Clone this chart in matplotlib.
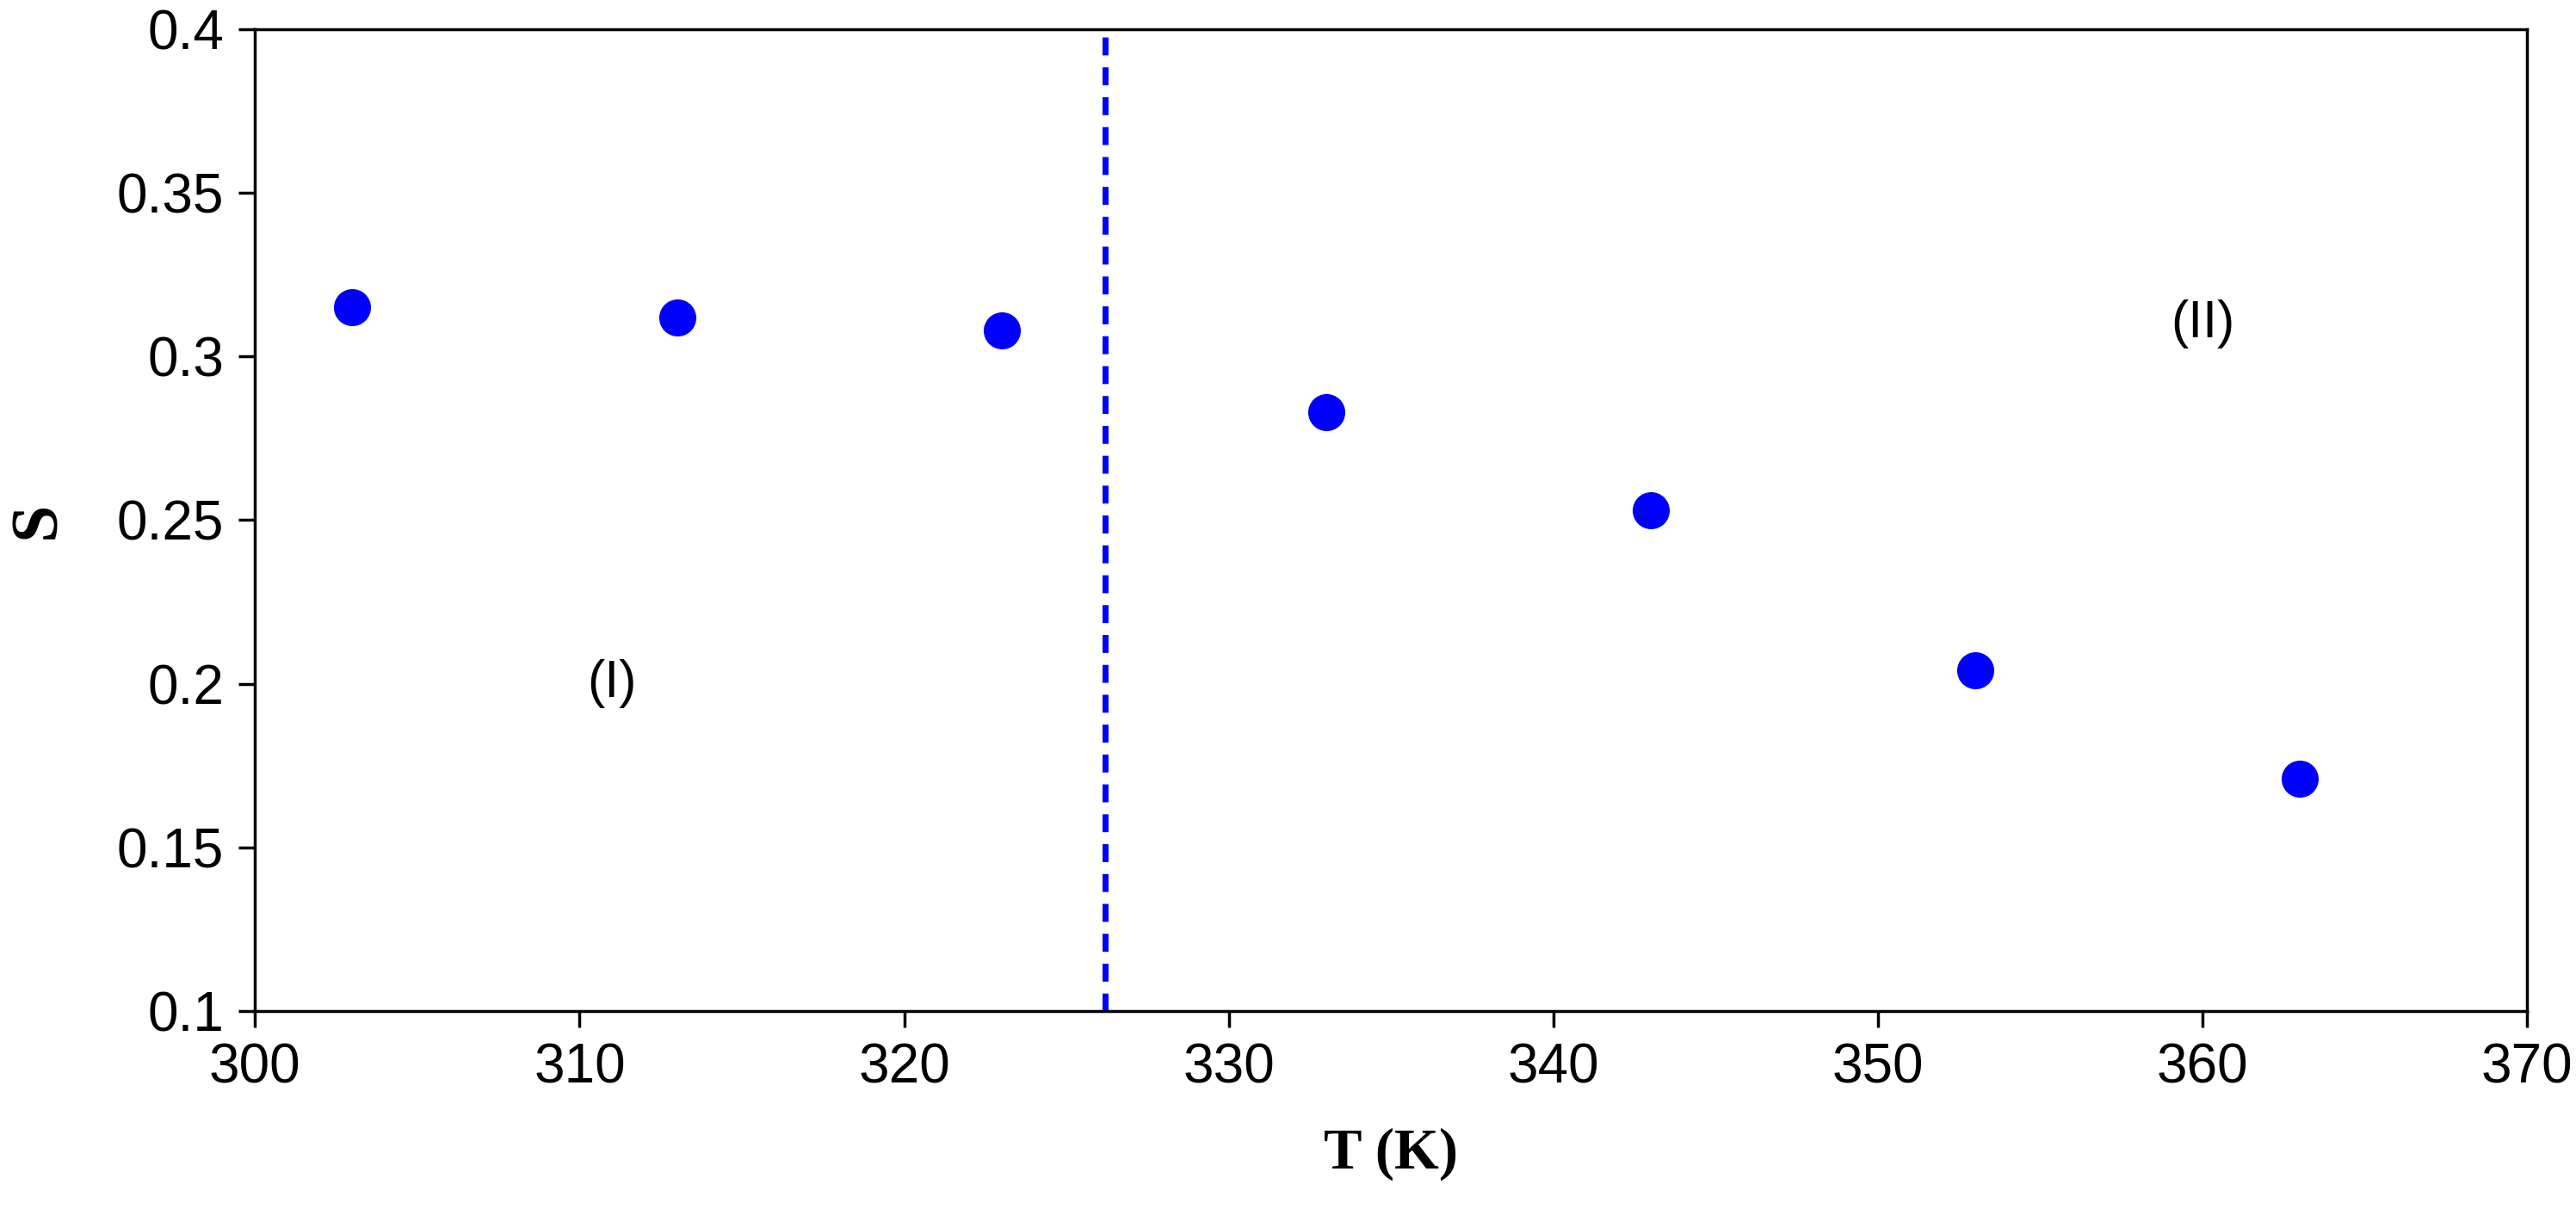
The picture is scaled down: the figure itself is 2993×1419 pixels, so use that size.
import matplotlib.pyplot as plt

temps = [303, 313, 323, 333, 343, 353, 363]
s_vals = [0.315, 0.312, 0.308, 0.283, 0.253, 0.204, 0.171]
t_split = 326.2

fig = plt.figure(figsize=(29.93, 14.19), dpi=100)
ax = fig.add_axes([0.099, 0.172, 0.882, 0.804])
ax.plot(temps, s_vals, 'o', color='#0000FF', ms=30, mec='#0000FF')
ax.axvline(t_split, color='#0000FF', ls='--', lw=5, dashes=(3, 2))

ax.set_xlim(300, 370)
ax.set_ylim(0.1, 0.4)
ax.set_xticks(range(300, 371, 10))
ax.set_yticks([0.1, 0.15, 0.2, 0.25, 0.3, 0.35, 0.4])
ax.set_yticklabels(['0.1', '0.15', '0.2', '0.25', '0.3', '0.35', '0.4'])
ax.tick_params(direction='out', length=14, width=2.5, labelsize=46, pad=12)
for lbl in ax.get_xticklabels() + ax.get_yticklabels():
    lbl.set_family('Liberation Sans')
for sp in ax.spines.values():
    sp.set_linewidth(2.5)

ax.text(311, 0.2, '(I)', fontsize=44, family='Liberation Sans', ha='center', va='center')
ax.text(360, 0.31, '(II)', fontsize=44, family='Liberation Sans', ha='center', va='center')

ax.set_xlabel('T (K)', fontsize=48, family='Liberation Serif', fontweight='bold', labelpad=28)
ax.set_ylabel('S', fontsize=56, family='Liberation Serif', fontweight='bold', labelpad=40)

fig.savefig('out.png', dpi=100)
